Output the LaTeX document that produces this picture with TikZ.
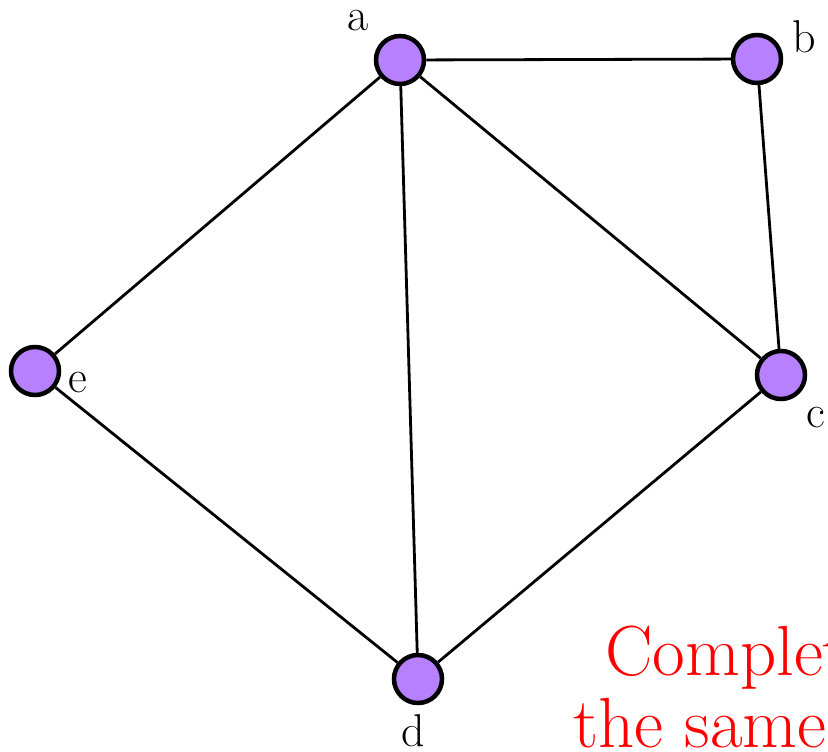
\documentclass[tikz,border=0pt]{standalone}
\usepackage{amsmath}
\usepackage{tikz}
\usetikzlibrary{positioning}
\definecolor{vpurple}{RGB}{183,128,255}
\tikzset{
  vertex/.style={circle, draw=black, fill=vpurple, line width=4.5pt, minimum size=48pt, inner sep=0pt},
  edge/.style={line width=2.8pt},
  lbl/.style={inner sep=0pt, outer sep=0pt, font=\fontsize{46}{55}\selectfont},
  note/.style={inner sep=0pt, text=red, font=\fontsize{71}{85}\selectfont}
}
\begin{document}
\begin{tikzpicture}[x=1pt, y=-1pt]
  \useasboundingbox (0,0) rectangle (828,752);
  \node[vertex] (a) at (400,60) {};
  \node[vertex] (b) at (757,59) {};
  \node[vertex] (c) at (781,375) {};
  \node[vertex] (d) at (418,679) {};
  \node[vertex] (e) at (35,371) {};
  \node[lbl, above left=11pt and 13pt of a] (la) {a};
  \node[lbl, above right=-12pt and 17pt of b] (lb) {b};
  \node[lbl, below right=14pt and 7pt of c] (lc) {c};
  \node[lbl, below=9.5pt of d, xshift=-5pt] (ld) {d};
  \node[lbl, below right=-17pt and 15pt of e] (le) {e};
  \draw[edge] (a) -- (b);
  \draw[edge] (b) -- (c);
  \draw[edge] (a) -- (c);
  \draw[edge] (a) -- (d);
  \draw[edge] (a) -- (e);
  \draw[edge] (c) -- (d);
  \draw[edge] (e) -- (d);
  \node[note, anchor=base west] (n1) at (605,675) {Complete};
  \node[note, anchor=base west] (n2) at (573,747) {the same};
\end{tikzpicture}
\end{document}
